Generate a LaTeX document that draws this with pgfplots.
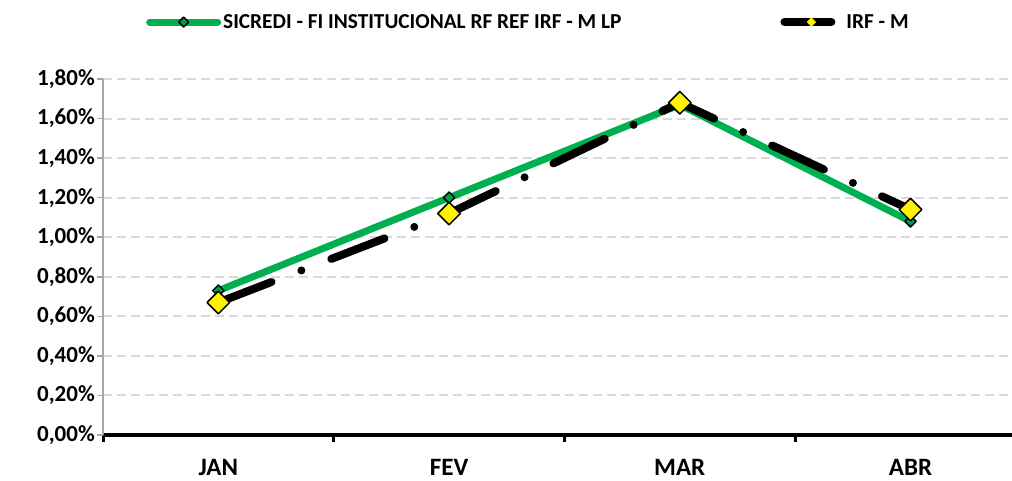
\documentclass[border=0pt]{standalone}
\usepackage{fontspec}
\setmainfont{Carlito}
\usepackage{pgfplots}
\pgfplotsset{compat=1.18}
\definecolor{sgreen}{HTML}{00B050}
\definecolor{mgreen}{HTML}{00A04A}
\definecolor{gridgray}{HTML}{D9D9D9}
\begin{document}
\begin{tikzpicture}[x=1pt,y=1pt]
\useasboundingbox (0,0) rectangle (1012,481);
\begin{axis}[
  at={(103pt,46pt)}, anchor=south west,
  scale only axis, width=909pt, height=356pt,
  xmin=-0.5, xmax=3.44, ymin=0, ymax=1.8,
  axis lines*=left,
  x axis line style={black, line width=4pt},
  y axis line style={gray!70, line width=1.5pt},
  tick align=outside,
  xtick={0,1,2,3}, xticklabels={JAN,FEV,MAR,ABR},
  major x tick style={draw=none},
  minor xtick={-0.5,0.5,1.5,2.5},
  minor x tick style={black, line width=3pt},
  minor tick length=7pt,
  ytick={0,0.2,...,1.8},
  y tick style={gray!70, line width=1.5pt},
  major tick length=6pt,
  ymajorgrids,
  grid style={gridgray, line width=2pt, dash pattern=on 9pt off 5pt},
  /pgf/number format/assume math mode=true,
  yticklabel={\pgfmathprintnumber[fixed,fixed zerofill,precision=2,use comma]{\tick}\%},
  yticklabel style={inner sep=2pt, font=\fontsize{23}{27}\selectfont\bfseries},
  xticklabel style={inner sep=0pt, yshift=-18pt, font=\fontsize{25}{29}\selectfont\bfseries},
  legend columns=2,
  legend style={at={(0.044,1.160)}, anchor=west, draw=none, fill=none,
    font=\fontsize{21.3}{25}\selectfont\bfseries,
    nodes={inner sep=2pt},
    /tikz/every even column/.append style={column sep=157pt}},
  clip=false,
]
\addplot[sgreen, line width=7pt, line join=round,
  mark=square*, mark size=4pt,
  mark options={solid, rotate=45, fill=mgreen, draw=black, line width=1.5pt},
  legend image code/.code={
    \draw[sgreen, line width=7pt, line cap=round] (0pt,0pt) -- (68pt,0pt);
    \draw[mgreen, mark=square*, mark size=3.5pt, mark options={rotate=45, fill=mgreen, draw=black, line width=1.5pt}] plot coordinates {(34pt,0pt)};
  }]
  coordinates {(0,0.73) (1,1.20) (2,1.67) (3,1.08)};
\addlegendentry{SICREDI - FI INSTITUCIONAL RF REF IRF - M LP}
\addplot[black, line width=8pt, line cap=round, line join=round,
  dash pattern=on 57pt off 32pt on 0pt off 32pt,
  mark=square*, mark size=8pt,
  mark options={solid, rotate=45, fill=yellow, draw=black, line width=1.5pt},
  legend image code/.code={
    \draw[black, line width=8pt, line cap=round] (0pt,0pt) -- (47pt,0pt);
    \draw[black, mark=square*, mark size=3pt, mark options={rotate=45, fill=yellow, draw=yellow, line width=0.5pt}] plot coordinates {(27pt,0pt)};
    \path (56pt,0pt);
  }]
  coordinates {(0,0.67) (1,1.12) (2,1.68) (3,1.14)};
\addlegendentry{IRF - M}
\end{axis}
\end{tikzpicture}
\end{document}
